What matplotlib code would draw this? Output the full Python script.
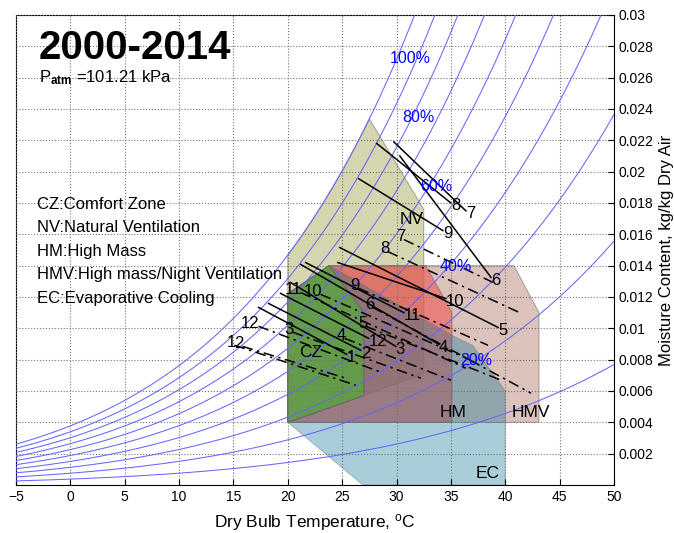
import numpy as np
import matplotlib
matplotlib.use('Agg')
import matplotlib.pyplot as plt
from matplotlib.patches import Polygon
from matplotlib.ticker import FuncFormatter

plt.rcParams['font.family'] = ['Liberation Sans', 'DejaVu Sans']
plt.rcParams['mathtext.fontset'] = 'custom'
plt.rcParams['mathtext.rm'] = 'Liberation Sans'
plt.rcParams['mathtext.bf'] = 'Liberation Sans:bold'
plt.rcParams['mathtext.it'] = 'Liberation Sans:italic'

# --- data ---
p_atm = 101.21  # kPa
rh_levels = [0.1, 0.2, 0.3, 0.4, 0.5, 0.6, 0.7, 0.8, 0.9, 1.0]
rh_label_text = ['100%', '80%', '60%', '40%', '20%']
rh_label_t = [31.3, 32.05, 33.7, 35.46, 37.3]
rh_label_w = [0.0272, 0.02344, 0.01904, 0.01395, 0.00796]

# zones (dry bulb C, moisture kg/kg)
nv_curve_t = [20.0, 27.5]          # left edge follows the 100% curve
nv_right = [(32.5, 0.0176), (32.5, 0.0071), (20.0, 0.004)]
hmv_zone = [(20, 0.004), (43.1, 0.004), (43.1, 0.011), (40.8, 0.014), (23.8, 0.014), (20, 0.0122)]
hm_zone = [(20, 0.004), (35.1, 0.004), (35.1, 0.011), (32.7, 0.014), (23.8, 0.014), (20, 0.0122)]
ec_zone = [(20, 0.0122), (23.8, 0.014), (35.1, 0.00955), (37.0, 0.0089), (40, 0.006), (40, 0.0),
           (26.9, 0.0), (20, 0.004)]
cz_zone = [(20, 0.004), (20, 0.0122), (23.8, 0.014), (27.0, 0.011), (27.0, 0.0057)]

zone_names = ['NV', 'CZ', 'HM', 'HMV', 'EC']
zone_label_t = [31.4, 22.1, 35.2, 42.4, 38.4]
zone_label_w = [0.01694, 0.00847, 0.00465, 0.00465, 0.00076]

legend_lines = ['CZ:Comfort Zone', 'NV:Natural Ventilation', 'HM:High Mass',
                'HMV:High mass/Night Ventilation', 'EC:Evaporative Cooling']

# monthly lines, solid (label at right end)
solid_month = [7, 8, 6, 9, 5, 10, 11, 4, 3, 12, 1, 2]
solid_t1 = [29.75, 28.18, 30.30, 26.52, 24.77, 24.59, 21.64, 21.18, 20.25, 19.33, 17.30, 18.23]
solid_w1 = [0.0219, 0.0218, 0.0210, 0.01955, 0.01516, 0.0142, 0.0142, 0.01408, 0.01293, 0.01223, 0.01134, 0.01159]
solid_t2 = [36.38, 35.0, 38.69, 34.26, 39.33, 34.54, 30.67, 33.89, 29.93, 27.44, 25.41, 26.71]
solid_w2 = [0.0175, 0.0180, 0.01325, 0.01624, 0.01006, 0.0119, 0.0110, 0.00898, 0.00885, 0.00936, 0.00834, 0.0086]

# monthly lines, dash-dot (label at left end)
dash_month = [7, 8, 9, 6, 10, 11, 5, 4, 3, 12, 1, 2]
dash_t1 = [30.67, 29.19, 26.52, 27.81, 23.02, 21.18, 27.17, 25.23, 20.44, 17.30, 15.09, 15.83]
dash_w1 = [0.01567, 0.0149, 0.01255, 0.01134, 0.01217, 0.01229, 0.01013, 0.00936, 0.00975, 0.01013, 0.00892, 0.00885]
dash_t2 = [38.87, 41.45, 38.41, 42.37, 36.84, 36.38, 39.61, 35.0, 32.24, 28.55, 26.24, 25.32]
dash_w2 = [0.01293, 0.01096, 0.00892, 0.00586, 0.00796, 0.00745, 0.00669, 0.00669, 0.00682, 0.0072, 0.00637, 0.00682]


def psat(t):
    return 0.61094 * np.exp(17.625 * t / (t + 243.04))


def w_of(t, rh):
    pw = rh * psat(t)
    return 0.622 * pw / (p_atm - pw)


fig = plt.figure(figsize=(6.74, 5.33), dpi=100)
ax = fig.add_axes([16 / 674, 48 / 533, 598 / 674, 470 / 533])

# zones
edge = dict(edgecolor='0.4', linewidth=0.8)
tc = np.linspace(nv_curve_t[0], nv_curve_t[1], 40)
nv_pts = [(20.0, 0.004)] + list(zip(tc, w_of(tc, 1.0))) + nv_right
ax.add_patch(Polygon(nv_pts, closed=True, facecolor=(173/255, 173/255, 97/255), alpha=0.5, zorder=1, **edge))
ax.add_patch(Polygon(hmv_zone, closed=True, facecolor=(185/255, 135/255, 121/255), alpha=0.5, zorder=1, **edge))
ax.add_patch(Polygon(hm_zone, closed=True, facecolor=(244/255, 65/255, 62/255), alpha=0.5, zorder=1, **edge))
ax.add_patch(Polygon(ec_zone, closed=True, facecolor=(12/255, 112/255, 149/255), alpha=0.35, zorder=1, **edge))
ax.add_patch(Polygon(cz_zone, closed=True, facecolor=(98/255, 158/255, 72/255), alpha=0.95, zorder=1, **edge))

# RH curves
t = np.linspace(-5, 50, 400)
for rh in rh_levels:
    ax.plot(t, w_of(t, rh), color=(0.4, 0.4, 1.0), lw=0.75, zorder=3)
for s, x, y in zip(rh_label_text, rh_label_t, rh_label_w):
    ax.text(x, y, s, color='#0000ff', fontsize=11.5, ha='center', va='center', zorder=6)

# monthly lines
for m, x1, y1, x2, y2 in zip(solid_month, solid_t1, solid_w1, solid_t2, solid_w2):
    ax.plot([x1, x2], [y1, y2], color='black', lw=1.1, zorder=4)
    ax.annotate(str(m), (x2, y2), xytext=(0, -2), textcoords='offset points',
                ha='left', va='center', fontsize=12, zorder=6)
for m, x1, y1, x2, y2 in zip(dash_month, dash_t1, dash_w1, dash_t2, dash_w2):
    ax.plot([x1, x2], [y1, y2], color='black', lw=1.1, ls=(0, (7, 3, 1.5, 3)), zorder=4)
    ax.annotate(str(m), (x1, y1), xytext=(1, 2), textcoords='offset points',
                ha='right', va='center', fontsize=12, zorder=6)

for s, x, y in zip(zone_names, zone_label_t, zone_label_w):
    ax.text(x, y, s, fontsize=12.5, ha='center', va='center', zorder=6)

ax.set_xlim(-5, 50)
ax.set_ylim(0, 0.03)
ax.set_xticks(np.arange(-5, 51, 5))
ax.set_yticks(np.arange(0.002, 0.0301, 0.002))
ax.yaxis.set_major_formatter(FuncFormatter(lambda v, p: f'{round(v, 4):g}'))
ax.yaxis.tick_right()
ax.yaxis.set_label_position('right')
ax.tick_params(direction='in', length=4, labelsize=10, width=0.8)
ax.tick_params(axis='y', pad=3)
ax.grid(True, linestyle=':', color='0.45', linewidth=0.8)
ax.set_axisbelow(False)
for sp in ax.spines.values():
    sp.set_linewidth(0.8)

ax.set_xlabel(r'Dry Bulb Temperature, $^{\mathrm{o}}$C', fontsize=12.5, labelpad=6)
ax.set_ylabel('Moisture Content, kg/kg Dry Air', fontsize=12, labelpad=4)

# title block and legend text
fig.text(39 / 674, 1 - 59 / 533, '2000-2014', fontsize=29, fontweight='bold', va='baseline')
fig.text(39 / 674, 1 - 82 / 533, r'P$_{\mathbf{atm}}$ =101.21 kPa', fontsize=12, va='baseline')
for i, s in enumerate(legend_lines):
    fig.text(37 / 674, 1 - (209 + 23.5 * i) / 533, s, fontsize=12, va='baseline')

fig.savefig('out.png', dpi=100)
